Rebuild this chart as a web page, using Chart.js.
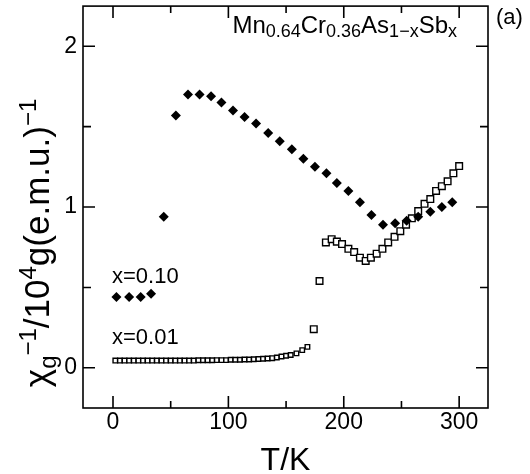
<!DOCTYPE html>
<html>
<head>
<meta charset="utf-8">
<script src="https://cdn.jsdelivr.net/npm/chart.js@4.4.0/dist/chart.umd.min.js"></script>
<style>
  html, body { margin: 0; padding: 0; background: #fff; }
  #wrap { width: 530px; height: 474px; }
</style>
</head>
<body>
<div id="wrap"><canvas id="grafico"></canvas></div>
<script>
// amostra x = 0.10 (losangos cheios)
const tempA = [3, 14, 24, 33, 44, 54.5, 65, 75, 85, 94, 104, 114, 124, 134.5, 144.5, 155, 165, 175, 185, 194,
  204, 214, 224, 234, 244.5, 254.5, 264.5, 275, 285, 294];
const chiA = [0.44, 0.44, 0.44, 0.46, 0.94, 1.57, 1.70, 1.70, 1.69, 1.65, 1.60, 1.56, 1.52, 1.46, 1.41, 1.36, 1.30, 1.25, 1.21, 1.15,
  1.10, 1.03, 0.95, 0.89, 0.90, 0.915, 0.94, 0.97, 1.00, 1.03];

// amostra x = 0.01 (quadrados abertos)
const tempB = [2, 6, 10, 14, 18, 22, 26, 30, 34, 38, 42, 46, 50, 54, 58, 62, 66, 70, 74, 78,
  82, 86, 90, 94, 98, 102, 106, 110, 114, 118, 122, 126, 130, 134, 138, 142, 146, 150, 154, 159,
  164, 168.5, 174, 179, 184.5, 189.5, 194, 198.5, 204, 209, 214, 219, 223.5, 228.5, 233.5, 238.5, 244, 249,
  254, 259, 264.5, 270, 275, 280, 285, 290, 295, 300];
const chiB = [0.045, 0.045, 0.045, 0.045, 0.045, 0.045, 0.045, 0.045, 0.045, 0.045, 0.045, 0.045, 0.045, 0.045, 0.045, 0.045, 0.045, 0.045, 0.047, 0.047,
  0.047, 0.047, 0.048, 0.048, 0.048, 0.05, 0.05, 0.05, 0.052, 0.052, 0.053, 0.055, 0.056, 0.058, 0.06, 0.064, 0.07, 0.075, 0.08, 0.09,
  0.11, 0.13, 0.24, 0.54, 0.78, 0.80, 0.785, 0.77, 0.74, 0.72, 0.685, 0.665, 0.685, 0.71, 0.74, 0.78, 0.815, 0.85,
  0.89, 0.93, 0.975, 1.02, 1.05, 1.10, 1.13, 1.16, 1.21, 1.255];

const xTicks = [0, 100, 200, 300];
const xMinor = [50, 150, 250];
const yTicks = [0, 1, 2];
const yMinor = [0.5, 1.5];

const FONTE = '"Liberation Sans", Arial, sans-serif';

function textoRico(ctx, partes, x, y, align) {
  let total = 0;
  partes.forEach(p => {
    ctx.font = p.size + 'px ' + FONTE;
    p.w = ctx.measureText(p.t).width;
    total += p.w;
  });
  let cx = align === 'center' ? x - total / 2 : align === 'right' ? x - total : x;
  ctx.textAlign = 'left';
  ctx.textBaseline = 'alphabetic';
  partes.forEach(p => {
    ctx.font = p.size + 'px ' + FONTE;
    ctx.fillText(p.t, cx, y + (p.dy || 0));
    cx += p.w;
  });
}

const moldura = {
  id: 'moldura',
  afterDraw(chart) {
    const { ctx, chartArea: a, scales: { x, y } } = chart;
    ctx.save();
    ctx.strokeStyle = '#000';
    ctx.fillStyle = '#000';
    ctx.lineWidth = 1.6;
    ctx.strokeRect(a.left, a.top, a.right - a.left, a.bottom - a.top);

    ctx.beginPath();
    const tx = (v, len) => {
      const p = x.getPixelForValue(v);
      ctx.moveTo(p, a.bottom); ctx.lineTo(p, a.bottom - len);
      ctx.moveTo(p, a.top); ctx.lineTo(p, a.top + len);
    };
    const ty = (v, len) => {
      const p = y.getPixelForValue(v);
      ctx.moveTo(a.left, p); ctx.lineTo(a.left + len, p);
      ctx.moveTo(a.right, p); ctx.lineTo(a.right - len, p);
    };
    xTicks.forEach(v => tx(v, 12));
    xMinor.forEach(v => tx(v, 7));
    yTicks.forEach(v => ty(v, 12));
    yMinor.forEach(v => ty(v, 8));
    ctx.stroke();

    // formula
    textoRico(ctx, [
      { t: 'Mn', size: 24 }, { t: '0.64', size: 18, dy: 4 },
      { t: 'Cr', size: 24 }, { t: '0.36', size: 18, dy: 4 },
      { t: 'As', size: 24 }, { t: '1\u2212x', size: 18, dy: 4 },
      { t: 'Sb', size: 24 }, { t: 'x', size: 18, dy: 4 }
    ], 457, 33, 'right');

    textoRico(ctx, [{ t: '(a)', size: 22 }], 496, 24, 'left');
    textoRico(ctx, [{ t: 'x=0.10', size: 22 }], 112, 283, 'left');
    textoRico(ctx, [{ t: 'x=0.01', size: 22 }], 112, 344, 'left');

    // titulo do eixo x
    textoRico(ctx, [{ t: 'T/K', size: 32 }], (a.left + a.right) / 2, 470, 'center');

    // titulo do eixo y
    ctx.save();
    ctx.translate(49, 243);
    ctx.rotate(-Math.PI / 2);
    textoRico(ctx, [
      { t: '\u03c7', size: 35 }, { t: 'g', size: 24, dy: 7 }, { t: '\u22121', size: 24, dy: -13 },
      { t: '/10', size: 35 }, { t: '4', size: 24, dy: -13 },
      { t: 'g(e.m.u.)', size: 35 }, { t: '\u22121', size: 24, dy: -13 }
    ], 0, 0, 'center');
    ctx.restore();

    ctx.restore();
  }
};

new Chart(document.getElementById('grafico'), {
  type: 'scatter',
  data: {
    datasets: [
      {
        label: 'x=0.10',
        data: tempA.map((t, i) => ({ x: t, y: chiA[i] })),
        pointStyle: 'rectRot',
        pointRadius: 5,
        backgroundColor: '#000',
        borderColor: '#000',
        borderWidth: 0
      },
      {
        label: 'x=0.01',
        data: tempB.map((t, i) => ({ x: t, y: chiB[i] })),
        pointStyle: 'rect',
        pointRadius: c => (c.raw && c.raw.x < 172 ? 3.2 : 4.7),
        backgroundColor: '#fff',
        borderColor: '#000',
        borderWidth: 1.4
      }
    ]
  },
  options: {
    responsive: true,
    maintainAspectRatio: false,
    animation: false,
    layout: { padding: { top: 6, right: 42, left: 0, bottom: 0 } },
    plugins: { legend: { display: false }, tooltip: { enabled: false } },
    scales: {
      x: {
        type: 'linear',
        min: -26,
        max: 325,
        afterBuildTicks: s => { s.ticks = xTicks.map(v => ({ value: v })); },
        afterFit: s => { s.height = 66; s.paddingLeft = 0; s.paddingRight = 0; },
        grid: { display: false, drawTicks: false },
        border: { display: false },
        ticks: { color: '#000', font: { family: FONTE, size: 23 }, padding: 1, maxRotation: 0 }
      },
      y: {
        type: 'linear',
        min: -0.25,
        max: 2.25,
        afterBuildTicks: s => { s.ticks = yTicks.map(v => ({ value: v })); },
        afterFit: s => { s.width = 83; s.paddingTop = 0; s.paddingBottom = 0; },
        grid: { display: false, drawTicks: false },
        border: { display: false },
        ticks: { color: '#000', font: { family: FONTE, size: 23 }, padding: 6 }
      }
    }
  },
  plugins: [moldura]
});
</script>
</body>
</html>
